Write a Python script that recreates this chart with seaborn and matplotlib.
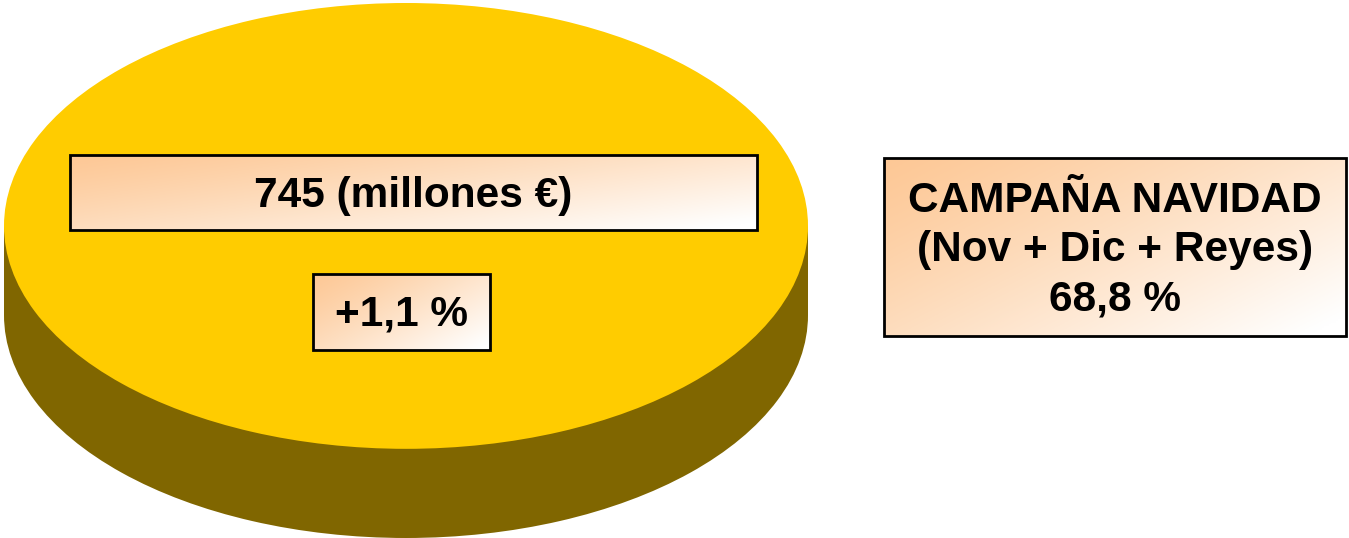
import numpy as np
import seaborn as sns
import matplotlib.pyplot as plt
from matplotlib.patches import Rectangle

sns.set_style("white")
plt.rcParams['font.family'] = ['Liberation Sans', 'DejaVu Sans']

# Data
ventas = [745]            # millones de euros
variacion = [1.1]         # % sobre el año anterior
cuota_navidad = [68.8]    # % de la campaña
titulo_campana = ["CAMPAÑA NAVIDAD", "(Nov + Dic + Reyes)"]

top_color = '#FFCC00'
side_color = '#806600'
peach = np.array([253, 200, 150]) / 255
white = np.array([255, 255, 255]) / 255

W, H = 1349, 538
fig = plt.figure(figsize=(W / 100, H / 100), dpi=100)

# 3D pie (single slice) drawn as two stacked pies
depth = 0.40
ax = fig.add_axes([4 / W, 0, 804 / W, (H - 3) / H])
ax.pie(ventas, colors=[side_color], radius=1, center=(0, -depth),
       startangle=90, wedgeprops=dict(linewidth=0, zorder=1))
xs = np.linspace(-1, 1, 200)
ax.fill_between(xs, -depth, 0, color=side_color, linewidth=0, zorder=1)
ax.pie(ventas, colors=[top_color], radius=1, center=(0, 0),
       startangle=90, wedgeprops=dict(linewidth=0, zorder=2))
ax.set_aspect('auto')
ax.set_xlim(-1, 1)
ax.set_ylim(-1 - depth, 1)
ax.axis('off')

# overlay in pixel coordinates for the label boxes
ov = fig.add_axes([0, 0, 1, 1])
ov.set_xlim(0, W)
ov.set_ylim(H, 0)
ov.axis('off')


def gradient_box(x0, y0, x1, y1, text):
    u, v = np.meshgrid(np.linspace(0, 1, 200), np.linspace(0, 1, 100))
    t = np.clip(0.6 * u + 0.45 * v, 0, 1) ** 1.2
    t = t[..., None]
    img = peach * (1 - t) + white * t
    ov.imshow(img, extent=(x0, x1, y1, y0), aspect='auto', zorder=3)
    ov.add_patch(Rectangle((x0, y0), x1 - x0, y1 - y0, fill=False,
                           edgecolor='black', linewidth=2, zorder=4))
    ov.text((x0 + x1) / 2, (y0 + y1) / 2 + 3, text, ha='center', va='center',
            fontsize=30.5, fontweight='bold', color='black', zorder=5,
            linespacing=1.3)


gradient_box(70, 155, 757, 230, f"{ventas[0]} (millones €)")
gradient_box(313, 274, 490, 350, f"+{variacion[0]:.1f} %".replace('.', ','))
gradient_box(884, 158, 1346, 336,
             "\n".join(titulo_campana + [f"{cuota_navidad[0]:.1f} %".replace('.', ',')]))

ov.set_xlim(0, W)
ov.set_ylim(H, 0)

fig.savefig('out.png', dpi=100)
